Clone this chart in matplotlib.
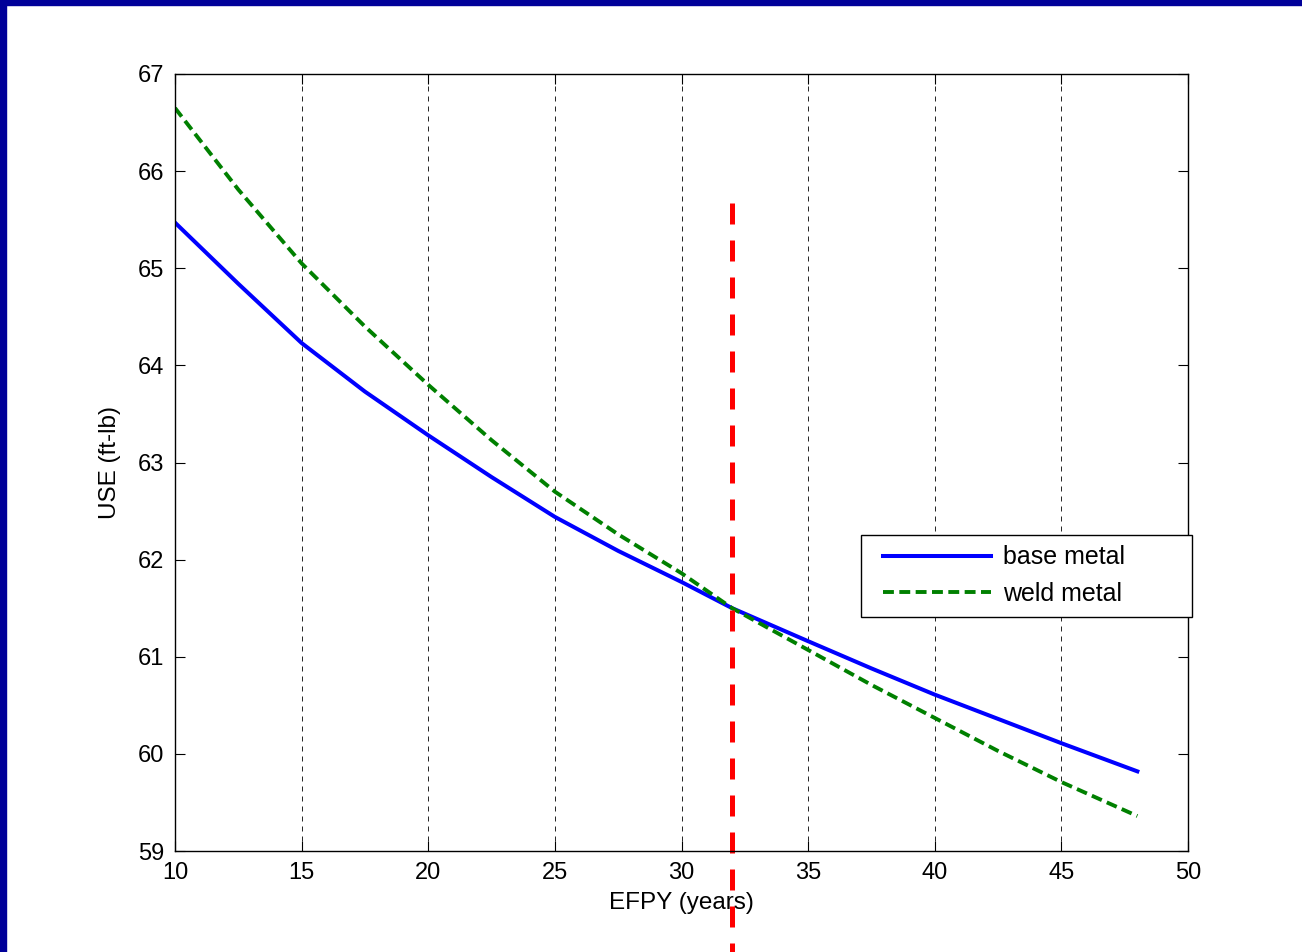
import numpy as np
import matplotlib.pyplot as plt
from matplotlib.patches import Rectangle

plt.rcParams['font.family'] = ['Liberation Sans', 'DejaVu Sans']

# EFPY (years) and USE (ft-lb)
efpy = [10, 12.5, 15, 17.5, 20, 22.5, 25, 27.5, 30, 32, 35, 37.5, 40, 42.5, 45, 48]
base_metal = [65.47, 64.84, 64.23, 63.73, 63.28, 62.85, 62.44, 62.09, 61.77,
              61.50, 61.16, 60.88, 60.61, 60.36, 60.11, 59.82]
weld_metal = [66.65, 65.81, 65.05, 64.40, 63.80, 63.23, 62.70, 62.26, 61.86,
              61.50, 61.07, 60.71, 60.37, 60.03, 59.71, 59.36]
marker_efpy = 32
marker_span = [65.67, 57.9]

W, H = 1302, 952
fig = plt.figure(figsize=(W / 100, H / 100), dpi=100)
# dark blue slide border
fig.patches.append(Rectangle((0, 0), 6 / W, 1, transform=fig.transFigure,
                             color='#000099', zorder=0))
fig.patches.append(Rectangle((0, 1 - 5 / H), 1, 5 / H, transform=fig.transFigure,
                             color='#000099', zorder=0))

ax = fig.add_axes([175 / W, 1 - 851 / H, 1013 / W, 777 / H])

ax.plot(efpy, base_metal, color='blue', lw=2.9, label='base metal')
ax.plot(efpy, weld_metal, color='green', lw=2.8, dashes=(2.8, 1.4), label='weld metal')
ax.plot([marker_efpy, marker_efpy], marker_span, color='red', lw=3.6,
        dashes=(4.2, 3.2), clip_on=False)

ax.set_xlim(10, 50)
ax.set_ylim(59, 67)
ax.set_xticks(np.arange(10, 51, 5))
ax.set_yticks(np.arange(59, 68, 1))
ax.xaxis.grid(True, color='black', lw=0.6, dashes=(6, 6))
ax.tick_params(direction='in', length=7, top=True, right=True, labelsize=17, pad=8)
for s in ax.spines.values():
    s.set_linewidth(1.0)

ax.set_xlabel('EFPY (years)', fontsize=17.5, labelpad=6)
ax.set_ylabel('USE (ft-lb)', fontsize=17.5, labelpad=12)

# legend entries without frame, box drawn separately (MATLAB style wide box)
ax.add_patch(Rectangle((861 / W, 1 - 617 / H), 331 / W, 82 / H,
                       transform=fig.transFigure, facecolor='white',
                       edgecolor='black', lw=1.0, zorder=4, clip_on=False))
leg = ax.legend(loc='center left', bbox_to_anchor=(883 / W, 1 - 575.5 / H),
                bbox_transform=fig.transFigure, borderaxespad=0, borderpad=0,
                fontsize=18, frameon=False, handlelength=4.3, handletextpad=0.5,
                labelspacing=0.5)
leg.set_zorder(6)

fig.savefig('out.png', dpi=100)
